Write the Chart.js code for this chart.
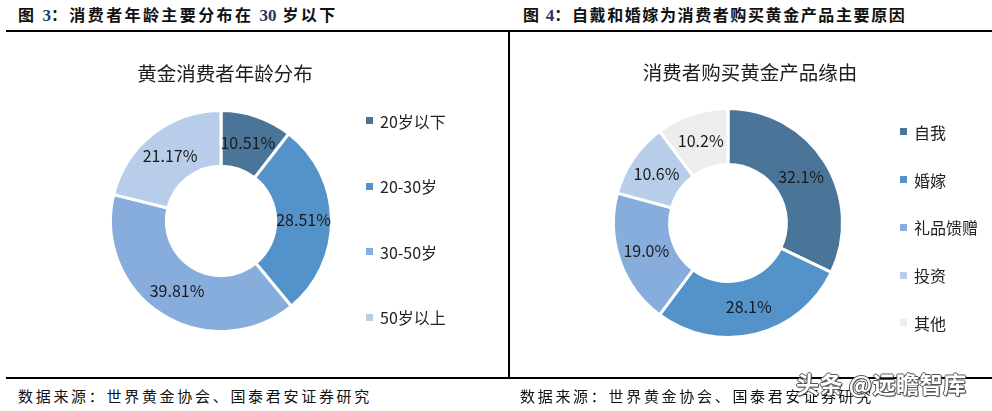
<!DOCTYPE html>
<html>
<head>
<meta charset="utf-8">
<script src="https://cdn.jsdelivr.net/npm/chart.js@4.4.1/dist/chart.umd.min.js"></script>
<style>
html,body{margin:0;padding:0;background:#fff;width:992px;height:411px;overflow:hidden;
  font-family:"Noto Sans CJK SC","Noto Sans",sans-serif;}
.abs{position:absolute;}
.hdr{top:3px;height:23px;line-height:23px;font-weight:700;font-size:16px;color:#111;white-space:nowrap;}
.hdr .num{font-family:"Liberation Serif","Times New Roman",serif;color:#1f3864;font-weight:700;font-size:17px;letter-spacing:0;}
.rule{background:#000;}
.ctitle{font-size:19.5px;color:#1e1e1e;white-space:nowrap;line-height:24px;height:24px;transform:translateX(-50%);}
.legend{display:flex;flex-direction:column;}
.legend .row{display:flex;align-items:center;white-space:nowrap;font-size:16px;color:#222;line-height:1;}
.legend .sw{width:7px;height:7px;margin-right:7px;flex:none;}
.foot{top:385px;font-size:15px;line-height:22px;color:#111;white-space:nowrap;letter-spacing:2.7px;}
.wm{left:796px;top:369px;font-size:23px;line-height:28px;color:#fff;white-space:nowrap;font-weight:700;
  text-shadow:1px 0 0 #555,-1px 0 0 #555,0 1px 0 #555,0 -1px 0 #555,1px 1px 1px #333;letter-spacing:0.5px;z-index:5;}
canvas{display:block;}
</style>
</head>
<body>
<div class="abs hdr" style="left:18px;letter-spacing:2.4px;">图 <span class="num">3</span>：消费者年龄主要分布在 <span class="num">30</span> 岁以下</div>
<div class="abs hdr" style="left:523px;letter-spacing:1.6px;">图 <span class="num">4</span>：自戴和婚嫁为消费者购买黄金产品主要原因</div>

<div class="abs rule" style="left:6px;top:30px;width:986px;height:2px;"></div>
<div class="abs rule" style="left:508px;top:32px;width:2px;height:346px;"></div>
<div class="abs rule" style="left:6px;top:377px;width:986px;height:2px;"></div>

<div class="abs" style="left:0;top:32px;width:509px;height:345px;"><canvas id="ageChart" width="509" height="345"></canvas></div>
<div class="abs" style="left:509px;top:32px;width:483px;height:345px;"><canvas id="reasonChart" width="483" height="345"></canvas></div>

<div class="abs ctitle" style="left:225px;top:61px;">黄金消费者年龄分布</div>
<div class="abs ctitle" style="left:750px;top:60px;">消费者购买黄金产品缘由</div>

<div class="abs legend" id="ageLegend" style="left:366px;top:88px;"></div>
<div class="abs legend" id="reasonLegend" style="left:900px;top:108px;"></div>

<div class="abs foot" style="left:18px;">数据来源：世界黄金协会、国泰君安证券研究</div>
<div class="abs foot" style="left:520px;">数据来源：世界黄金协会、国泰君安证券研究</div>
<div class="abs wm">头条 @远瞻智库</div>

<script>
// ---- data ----
const ageLabels = ['20岁以下', '20-30岁', '30-50岁', '50岁以上'];
const ageShares = [10.51, 28.51, 39.81, 21.17];
const reasonLabels = ['自我', '婚嫁', '礼品馈赠', '投资', '其他'];
const reasonShares = [32.1, 28.1, 19.0, 10.6, 10.2];

// ---- styles ----
const ageColors = ['#4a7599', '#5493c9', '#87addc', '#b8cdea'];
const reasonColors = ['#4a7599', '#5493c9', '#87addc', '#b8cdea', '#ededed'];

const pctLabels = {
  id: 'pctLabels',
  afterDatasetsDraw(chart, args, opts) {
    const ctx = chart.ctx;
    const ds = chart.data.datasets[0];
    const meta = chart.getDatasetMeta(0);
    ctx.save();
    ctx.font = '16px "Noto Sans CJK SC", "Noto Sans", sans-serif';
    ctx.fillStyle = '#1a1a1a';
    ctx.textAlign = 'center';
    ctx.textBaseline = 'middle';
    meta.data.forEach((arc, i) => {
      const p = arc.tooltipPosition();
      ctx.fillText(ds.data[i].toFixed(opts.decimals) + '%', p.x, p.y);
    });
    ctx.restore();
  }
};

function makeDonut(id, labels, values, colors, radius, cutout, padding, decimals) {
  return new Chart(document.getElementById(id), {
    type: 'doughnut',
    data: {
      labels: labels,
      datasets: [{
        data: values,
        backgroundColor: colors,
        borderColor: '#ffffff',
        borderWidth: 3,
        hoverOffset: 0,
        hoverBorderWidth: 3
      }]
    },
    options: {
      responsive: false,
      animation: false,
      radius: radius,
      cutout: cutout,
      layout: { padding: padding },
      plugins: {
        legend: { display: false },
        tooltip: { enabled: false },
        title: { display: false },
        pctLabels: { decimals: decimals }
      }
    },
    plugins: [pctLabels]
  });
}

makeDonut('ageChart', ageLabels, ageShares, ageColors, 110.5, '49.5%', {left: 0, right: 67, top: 33, bottom: 0}, 2);
makeDonut('reasonChart', reasonLabels, reasonShares, reasonColors, 114.5, '51%', {left: 0, right: 45, top: 37, bottom: 0}, 1);

function buildLegend(elId, labels, colors, rowH) {
  const el = document.getElementById(elId);
  labels.forEach((t, i) => {
    const row = document.createElement('div');
    row.className = 'row';
    row.style.height = rowH + 'px';
    const sw = document.createElement('span');
    sw.className = 'sw';
    sw.style.background = colors[i];
    const tx = document.createElement('span');
    tx.textContent = t;
    row.appendChild(sw);
    row.appendChild(tx);
    el.appendChild(row);
  });
}
buildLegend('ageLegend', ageLabels, ageColors, 65.5);
buildLegend('reasonLegend', reasonLabels, reasonColors, 47.75);
</script>
</body>
</html>
